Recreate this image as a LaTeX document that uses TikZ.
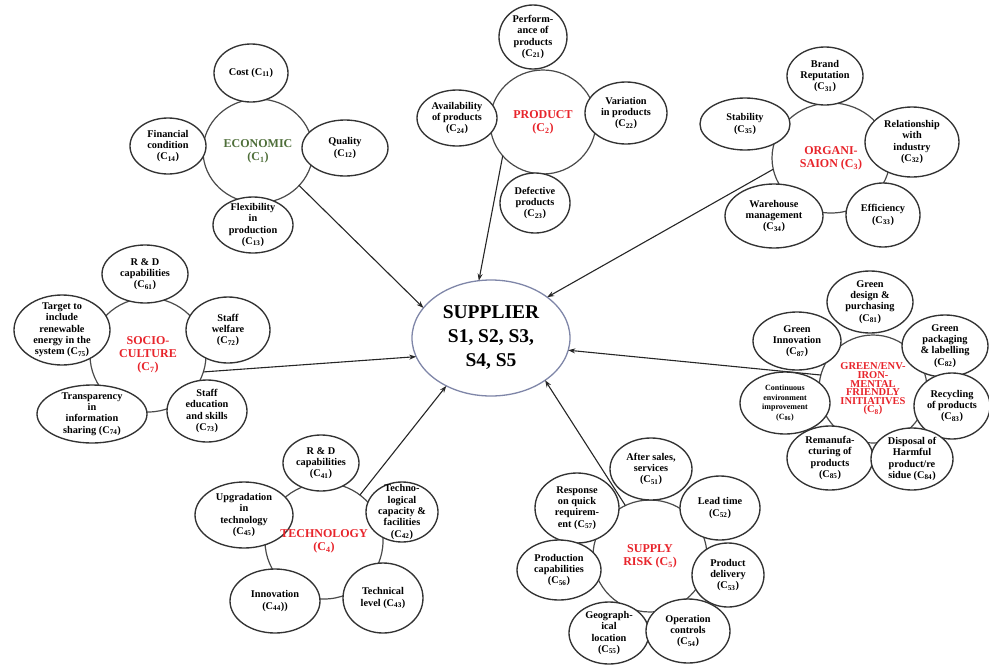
\documentclass[tikz,border=0pt]{standalone}
\usepackage{fontspec}
\setmainfont{Liberation Serif}
\usetikzlibrary{shapes.geometric,arrows.meta}
\definecolor{ecogreen}{HTML}{4F6F3A}
\definecolor{catred}{HTML}{E8242B}
\definecolor{satline}{HTML}{333333}
\definecolor{catline}{HTML}{4A4A4A}
\definecolor{supline}{HTML}{7F86A8}
\newcommand{\crit}[1]{(C\textsubscript{#1})}
\newcommand{\satnode}[6]{%
  \node[satshape, minimum width=#4*2pt, minimum height=#5*2pt] (#1) at (#2,#3) {};
  \node[sattext] at (#1.center) {#6};}
\newcommand{\catnode}[5]{%
  \node[catshape, minimum width=#4*2pt, minimum height=#5*2pt] (#1) at (#2,#3) {};}
\tikzset{
  satshape/.style={ellipse, draw=satline, line width=1.35pt, fill=white, inner sep=0pt, outer sep=0pt},
  sattext/.style={align=center, font=\fontsize{10.3}{11.3}\selectfont\bfseries, inner sep=0pt},
  catshape/.style={ellipse, draw=catline, line width=1.2pt, fill=white, inner sep=0pt, outer sep=0pt},
  cattext/.style={align=center, font=\fontsize{12}{13}\selectfont\bfseries, text=catred, inner sep=0pt},
  arr/.style={-{Stealth[length=7pt,width=5pt]}, line width=1.1pt, draw=black!85},
}
\begin{document}
\begin{tikzpicture}[x=1pt,y=-1pt]
\useasboundingbox (0,0) rectangle (989,665);
% supplier
\node[ellipse, draw=supline, line width=1.3pt, fill=white, inner sep=0pt, outer sep=0pt,
      minimum width=158pt, minimum height=116pt, align=center,
      font=\fontsize{19.5}{24}\selectfont\bfseries] (supplier) at (491,338)
      {SUPPLIER\\S1, S2, S3,\\S4, S5};
% category circles
\catnode{eco}{258}{151}{55}{52}
\catnode{prod}{543}{122}{53}{52}
\catnode{org}{831}{158}{59}{55}
\catnode{soc}{148}{355}{58}{57}
\catnode{green}{873}{389}{54}{54}
\catnode{tech}{324}{541}{59}{58}
\catnode{risk}{650}{556}{57}{56}
% connectors
\draw[arr] (eco.-40) -- (supplier.156);
\draw[arr] (prod.220) -- (supplier.102);
\draw[arr] (org.191) -- (supplier.36);
\draw[arr] (soc.-17) -- (supplier.194);
\draw[arr] (green.165) -- (supplier.-9);
\draw[arr] (tech.52) -- (supplier.227);
\draw[arr] (risk.116) -- (supplier.-38);
% economic
\satnode{cost}{251}{73}{37}{29}{Cost \crit{11}}
\satnode{fin}{168}{146}{38}{28}{Financial\\condition\\\crit{14}}
\satnode{qual}{345}{148}{43}{28}{Quality\\\crit{12}}
\satnode{flex}{253}{225}{40}{28}{Flexibility\\in\\production\\\crit{13}}
% product
\satnode{perf}{533}{37}{34}{32}{Perform-\\ance of\\products\\\crit{21}}
\satnode{avail}{457}{118}{40}{28}{Availability\\of products\\\crit{24}}
\satnode{vari}{626}{113}{41}{31}{Variation\\in products\\\crit{22}}
\satnode{defe}{535}{203}{35}{30}{Defective\\products\\\crit{23}}
% organisation
\satnode{brand}{825}{76}{38}{29}{Brand\\Reputation\\\crit{31}}
\satnode{stab}{745}{124}{45}{26}{Stability\\\crit{35}}
\satnode{rel}{912}{142}{47}{35}{Relationship\\with\\industry\\\crit{32}}
\satnode{ware}{774}{216}{49}{32}{Warehouse\\management\\\crit{34}}
\satnode{eff}{883}{215}{37}{32}{Efficiency\\\crit{33}}
% socio culture
\satnode{rdsix}{145}{274}{43}{29}{R \& D\\capabilities\\\crit{61}}
\satnode{target}{62}{330}{48}{35}{Target to\\include\\renewable\\energy in the\\system \crit{75}}
\satnode{welf}{228}{330}{42}{33}{Staff\\welfare\\\crit{72}}
\satnode{transp}{92}{414}{55}{29}{Transparency\\in\\information\\sharing \crit{74}}
\satnode{educ}{207}{411}{40}{31}{Staff\\education\\and skills\\\crit{73}}
% green
\satnode{gdes}{870}{302}{43}{31}{Green\\design \&\\purchasing\\\crit{81}}
\satnode{ginn}{797}{341}{44}{29}{Green\\Innovation\\\crit{87}}
\satnode{gpack}{945}{346}{43}{31}{Green\\packaging\\\& labelling\\\crit{82}}
\node[satshape, minimum width=90pt, minimum height=62pt] (cont) at (785,403) {};
\node[align=center, font=\fontsize{8}{9.5}\selectfont\bfseries, inner sep=0pt] at (cont.center)
  {Continuous\\environment\\improvement\\\crit{86}};
\satnode{recy}{952}{406}{38}{33}{Recycling\\of products\\\crit{83}}
\satnode{reman}{830}{458}{43}{32}{Remanufa-\\cturing of\\products\\\crit{85}}
\satnode{disp}{912}{459}{41}{31}{Disposal of\\Harmful\\product/re\\sidue \crit{84}}
% technology
\satnode{rdfour}{321}{463}{38}{28}{R \& D\\capabilities\\\crit{41}}
\satnode{upg}{244}{515}{49}{33}{Upgradation\\in\\technology\\\crit{45}}
\satnode{tcap}{402}{512}{36}{30}{Techno-\\logical\\capacity \&\\facilities\\\crit{42}}
\satnode{innov}{275}{601}{45}{32}{Innovation\\\crit{44})}
\satnode{tlev}{383}{598}{40}{35}{Technical\\level \crit{43}}
% supply risk
\satnode{after}{651}{469}{41}{31}{After sales,\\services\\\crit{51}}
\satnode{resp}{577}{508}{42}{35}{Response\\on quick\\requirem-\\ent \crit{57}}
\satnode{lead}{720}{508}{40}{32}{Lead time\\\crit{52}}
\satnode{pcap}{559}{570}{42}{30}{Production\\capabilities\\\crit{56}}
\satnode{deliv}{728}{575}{36}{32}{Product\\delivery\\\crit{53}}
\satnode{geo}{609}{633}{40}{31}{Geograph-\\ical\\location\\\crit{55}}
\satnode{oper}{688}{631}{42}{32}{Operation\\controls\\\crit{54}}
% category labels
\node[cattext, text=ecogreen] at (eco.center) {ECONOMIC\\\crit{1}};
\node[cattext] at (prod.center) {PRODUCT\\\crit{2}};
\node[cattext] at (org.center) {ORGANI-\\SAION \crit{3}};
\node[cattext] at (soc.center) {SOCIO-\\CULTURE\\\crit{7}};
\node[cattext, font=\fontsize{10.5}{8.6}\selectfont\bfseries] at (green.center) {GREEN/ENV-\\IRON-\\MENTAL\\FRIENDLY\\INITIATIVES\\\crit{8}};
\node[cattext] at (tech.center) {TECHNOLOGY\\\crit{4}};
\node[cattext] at (risk.center) {SUPPLY\\RISK \crit{5}};
\end{tikzpicture}
\end{document}
